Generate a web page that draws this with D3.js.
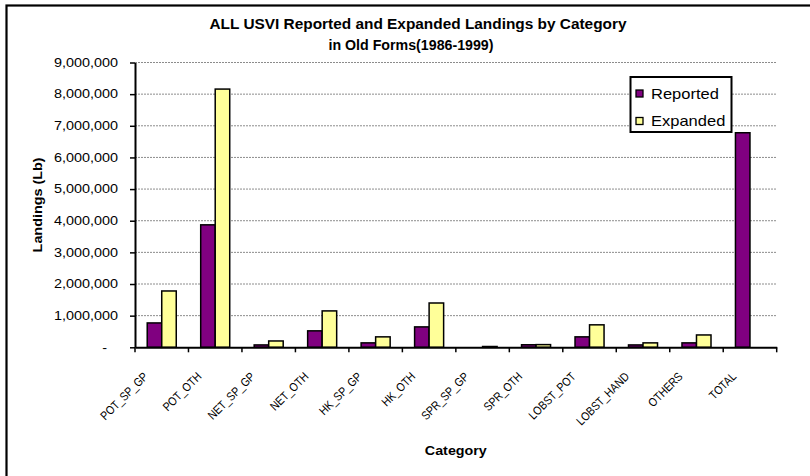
<!DOCTYPE html>
<html>
<head>
<meta charset="utf-8">
<script src="https://cdn.jsdelivr.net/npm/d3@7"></script>
<style>
  html, body { margin: 0; padding: 0; background: #fff; }
  svg { display: block; font-family: "Liberation Sans", Arial, sans-serif; }
</style>
</head>
<body>
<svg id="chart" width="810" height="476"></svg>
<script>
// ---- Data ----
const categories = ["POT_SP_GP", "POT_OTH", "NET_SP_GP", "NET_OTH", "HK_SP_GP", "HK_OTH",
                    "SPR_SP_GP", "SPR_OTH", "LOBST_POT", "LOBST_HAND", "OTHERS", "TOTAL"];
const seriesNames = ["Reported", "Expanded"];
const reported = [770000, 3870000, 75000, 520000, 140000, 645000, 0, 80000, 330000, 75000, 140000, 6780000];
const expanded = [1780000, 8160000, 200000, 1150000, 330000, 1400000, 25000, 85000, 710000, 140000, 390000, 0];
const yTickValues = [0, 1000000, 2000000, 3000000, 4000000, 5000000, 6000000, 7000000, 8000000, 9000000];
const titleLines = ["ALL USVI  Reported and Expanded  Landings by Category", "in  Old  Forms(1986-1999)"];
const yTitle = "Landings (Lb)";
const xTitle = "Category";
const colors = {Reported: "#800080", Expanded: "#FFFF99"};

// ---- Layout ----
const plotL = 135, plotR = 776.7, plotT = 62.5, plotB = 347.3;
const svg = d3.select("#chart");

function stretchTo(sel, target) {
  sel.each(function() {
    this.setAttribute("textLength", target);
    this.setAttribute("lengthAdjust", "spacingAndGlyphs");
  });
}
function stretchBy(sel, k) {
  sel.each(function() {
    const w = this.getComputedTextLength();
    this.setAttribute("textLength", w * k);
    this.setAttribute("lengthAdjust", "spacingAndGlyphs");
  });
}

svg.append("rect").attr("width", 810).attr("height", 476).attr("fill", "#fff");
// outer chart frame (right/bottom edges are outside the view)
svg.append("rect").attr("x", 6.5).attr("y", 5.5).attr("width", 900).attr("height", 600)
  .attr("fill", "none").attr("stroke", "#000").attr("stroke-width", 2.2);

const x0 = d3.scaleBand().domain(categories).range([plotL, plotR]).padding(0);
const bw = x0.bandwidth();
const x1 = d3.scaleBand().domain(seriesNames).range([bw * 0.2286, bw * 0.7714]).padding(0);
const y = d3.scaleLinear().domain([0, 9000000]).range([plotB, plotT]);

// gridlines
svg.append("g").selectAll("line").data(yTickValues.filter(d => d > 0)).join("line")
  .attr("x1", plotL).attr("x2", plotR)
  .attr("y1", d => y(d)).attr("y2", d => y(d))
  .attr("stroke", "#8c8c8c").attr("stroke-width", 1).attr("stroke-dasharray", "2,1");

// bars
const rows = categories.map((c, i) => ({cat: c, vals: [
  {s: "Reported", v: reported[i]}, {s: "Expanded", v: expanded[i]}]}));
const groups = svg.append("g").selectAll("g").data(rows).join("g")
  .attr("transform", d => `translate(${x0(d.cat)},0)`);
groups.selectAll("rect").data(d => d.vals.filter(e => e.v > 0)).join("rect")
  .attr("x", d => x1(d.s)).attr("width", x1.bandwidth())
  .attr("y", d => y(d.v)).attr("height", d => y(0) - y(d.v))
  .attr("fill", d => colors[d.s]).attr("stroke", "#000").attr("stroke-width", 1.5);

// y axis
const yAxis = svg.append("g").attr("transform", `translate(${plotL},0)`)
  .call(d3.axisLeft(y).tickValues(yTickValues).tickSize(5).tickSizeOuter(0)
    .tickFormat(d => d === 0 ? "-" : d3.format(",")(d)));
yAxis.select(".domain").attr("stroke-width", 2);
yAxis.selectAll(".tick line").attr("stroke-width", 1.5);
yAxis.selectAll(".tick text").attr("font-size", 12).attr("fill", "#000")
  .attr("font-family", "'Liberation Sans', Arial, sans-serif")
  .attr("x", d => d === 0 ? -28 : -17);
stretchBy(yAxis.selectAll(".tick text"), 1.2);

// x axis line and boundary ticks
const xAxis = svg.append("g").attr("transform", `translate(0,${plotB})`)
  .call(d3.axisBottom(x0).tickSize(0).tickSizeOuter(0).tickFormat(""));
xAxis.select(".domain").attr("stroke-width", 2);
const bounds = categories.map(c => x0(c)).concat([plotR]);
svg.append("g").selectAll("line").data(bounds).join("line")
  .attr("x1", d => d).attr("x2", d => d).attr("y1", plotB).attr("y2", plotB + 5)
  .attr("stroke", "#000").attr("stroke-width", 1.5);

// x category labels rotated (condensed)
const xl = svg.append("g").selectAll("text").data(categories).join("text")
  .attr("transform", d => `translate(${x0(d) + bw / 2 - 13},${plotB + 30}) rotate(-45)`)
  .attr("text-anchor", "end").attr("font-size", 12).attr("fill", "#000")
  .text(d => d);
stretchBy(xl, 0.86);

// titles
const t = svg.append("g");
const t1 = t.append("text").attr("x", 418).attr("y", 28.5).attr("text-anchor", "middle")
  .attr("font-size", 14).attr("font-weight", "bold").text(titleLines[0]);
stretchTo(t1, 417);
const t2 = t.append("text").attr("x", 411).attr("y", 49.5).attr("text-anchor", "middle")
  .attr("font-size", 14).attr("font-weight", "bold").text(titleLines[1]);
stretchTo(t2, 165);

const yt = svg.append("text").attr("transform", `translate(42,${(plotT + plotB) / 2}) rotate(-90)`)
  .attr("text-anchor", "middle").attr("font-size", 13).attr("font-weight", "bold").text(yTitle);
stretchTo(yt, 95);
const xt = svg.append("text").attr("x", (plotL + plotR) / 2).attr("y", 455)
  .attr("text-anchor", "middle").attr("font-size", 13).attr("font-weight", "bold").text(xTitle);
stretchBy(xt, 1.1);

// legend
const lg = svg.append("g");
lg.append("rect").attr("x", 630.5).attr("y", 77).attr("width", 101).attr("height", 55)
  .attr("fill", "#fff").attr("stroke", "#000").attr("stroke-width", 2);
const items = lg.selectAll("g.item").data(seriesNames).join("g").attr("class", "item")
  .attr("transform", (d, i) => `translate(0,${i * 27.5})`);
items.append("rect").attr("x", 636).attr("y", 90).attr("width", 7).attr("height", 7)
  .attr("fill", d => colors[d]).attr("stroke", "#000").attr("stroke-width", 1.3);
const lt = items.append("text").attr("x", 651).attr("y", 98.5).attr("font-size", 15)
  .attr("fill", "#000").text(d => d);
stretchBy(lt, 1.1);
</script>
</body>
</html>
